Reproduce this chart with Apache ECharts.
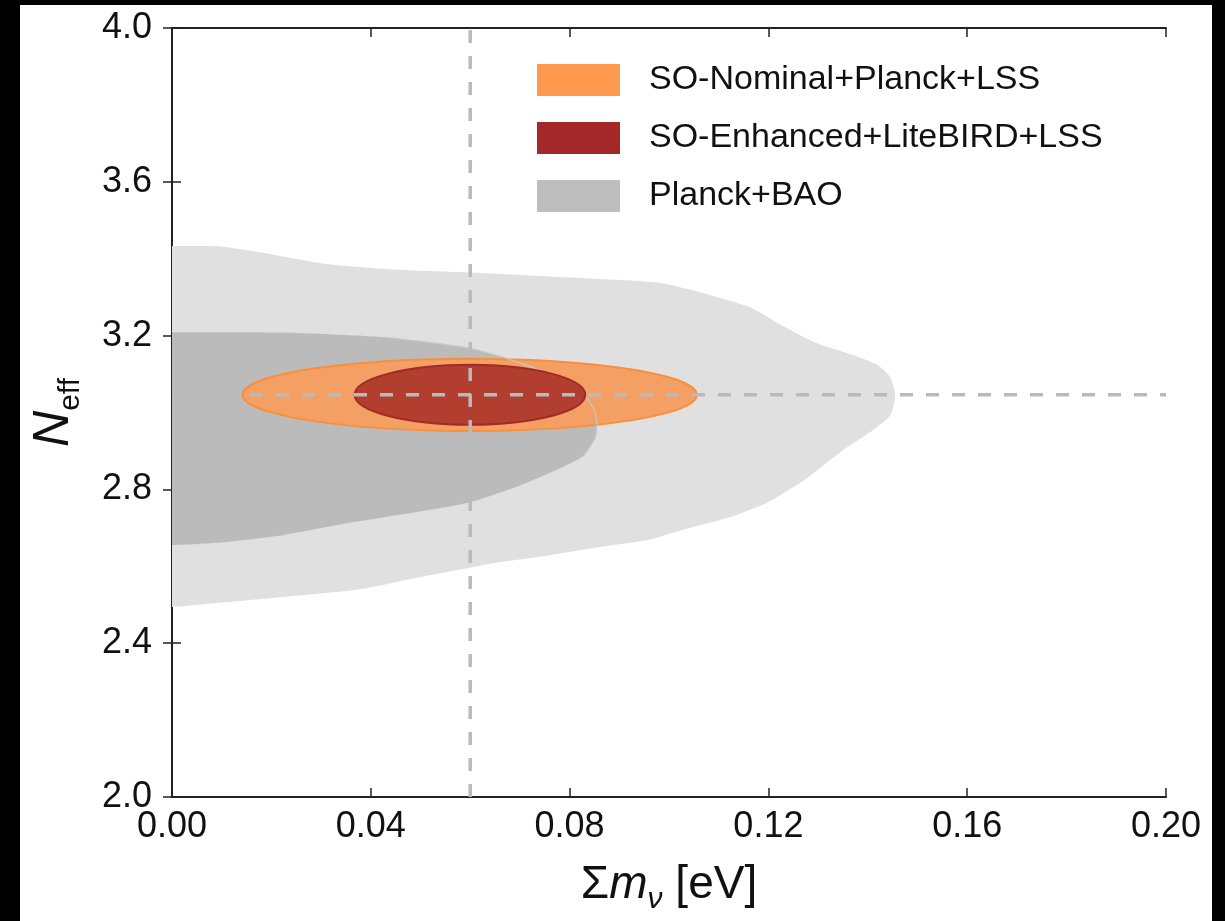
<!DOCTYPE html>
<html>
<head>
<meta charset="utf-8">
<script src="https://cdn.jsdelivr.net/npm/echarts@6/dist/echarts.min.js"></script>
<style>
html,body{margin:0;padding:0;background:#000;width:1225px;height:921px;overflow:hidden;}
#bg{position:absolute;left:20px;top:5px;width:1192px;height:916px;background:#fff;}
#main{position:absolute;left:0;top:0;width:1225px;height:921px;}
</style>
</head>
<body>
<div id="bg"></div>
<div id="main"></div>
<script>
// ---- data ----
var seriesNames = ['SO-Nominal+Planck+LSS', 'SO-Enhanced+LiteBIRD+LSS', 'Planck+BAO'];
var xTicks = [0.00, 0.04, 0.08, 0.12, 0.16, 0.20];
var yTicks = [2.0, 2.4, 2.8, 3.2, 3.6, 4.0];
var fiducialMnu = 0.06;
var fiducialNeff = 3.046;

// Planck+BAO 95% contour [sum m_nu, N_eff] (continues past the left axis, clipped there)
var planckOuter = [
  [-0.012, 3.433], [0.000, 3.433], [0.0097, 3.432], [0.0177, 3.417], [0.0312, 3.386], [0.0445, 3.372],
  [0.060, 3.364], [0.0861, 3.347], [0.0982, 3.337], [0.1062, 3.313], [0.1163, 3.274],
  [0.1229, 3.225], [0.1298, 3.180], [0.1364, 3.152], [0.1419, 3.124], [0.1445, 3.092],
  [0.1455, 3.046], [0.1445, 2.992], [0.1410, 2.954], [0.1350, 2.902], [0.1298, 2.850],
  [0.1264, 2.817], [0.1197, 2.765], [0.1129, 2.730], [0.1028, 2.695], [0.0962, 2.670],
  [0.0861, 2.650], [0.0761, 2.629], [0.0660, 2.611], [0.0598, 2.596], [0.0493, 2.570],
  [0.0378, 2.540], [0.0223, 2.520], [0.0080, 2.503], [0.000, 2.494], [-0.012, 2.494]
];
// Planck+BAO 68% contour
var planckInner = [
  [-0.012, 3.209], [0.000, 3.209], [0.0223, 3.208], [0.0425, 3.196], [0.0525, 3.181], [0.0598, 3.167],
  [0.0660, 3.146], [0.0740, 3.110], [0.0800, 3.074], [0.0831, 3.045], [0.0849, 3.007],
  [0.0855, 2.973], [0.0851, 2.934], [0.0827, 2.886], [0.0761, 2.843], [0.0694, 2.807],
  [0.0598, 2.766], [0.0493, 2.741], [0.0358, 2.713], [0.0223, 2.681], [0.0091, 2.661],
  [0.000, 2.655], [-0.012, 2.655]
];
// ellipses: [centre m_nu, centre N_eff, half-width m_nu, half-height N_eff]
var soNominal = [0.0599, 3.046, 0.0457, 0.094];
var soEnhanced = [0.05995, 3.046, 0.0232, 0.078];

// fiducial guide lines
var vLine = [[fiducialMnu, 2.0], [fiducialMnu, 4.0]];
var hLine = [[0.0, fiducialNeff], [0.2, fiducialNeff]];

// ---- chart ----
var FONT = 'Liberation Sans';
var chart = echarts.init(document.getElementById('main'), null, {renderer: 'canvas'});

function polygonSeries(name, pts, fill, z) {
  return {
    type: 'custom', name: name, coordinateSystem: 'cartesian2d',
    xAxisIndex: 0, yAxisIndex: 0, clip: true, silent: true, z: z,
    itemStyle: {color: fill},
    data: [pts[1]],
    renderItem: function (params, api) {
      return {
        type: 'polygon',
        shape: {points: pts.map(function (p) { return api.coord(p); }), smooth: 0.2},
        style: {fill: fill, stroke: null}
      };
    }
  };
}
function outlineSeries(name, pts, color, z) {
  return {
    type: 'custom', name: name, coordinateSystem: 'cartesian2d',
    xAxisIndex: 0, yAxisIndex: 0, clip: true, silent: true, z: z,
    data: [pts[1]],
    renderItem: function (params, api) {
      var p = pts.slice(3, pts.length - 9).map(function (q) { return api.coord(q); });
      return {
        type: 'polyline',
        shape: {points: p, smooth: 0.2},
        style: {fill: null, stroke: color, lineWidth: 1.3}
      };
    }
  };
}
function ellipseSeries(name, e, fill, stroke, z) {
  return {
    type: 'custom', name: name, coordinateSystem: 'cartesian2d',
    xAxisIndex: 0, yAxisIndex: 0, clip: true, silent: true, z: z,
    itemStyle: {color: fill},
    data: [[e[0], e[1]]],
    renderItem: function (params, api) {
      var c = api.coord([e[0], e[1]]);
      var s = api.size([e[2], e[3]]);
      return {
        type: 'ellipse',
        shape: {cx: c[0], cy: c[1], rx: s[0], ry: s[1]},
        style: {fill: fill, stroke: stroke, lineWidth: 2}
      };
    }
  };
}
function dashSeries(name, pts) {
  return {
    type: 'line', name: name, data: pts, symbol: 'none', silent: true, z: 20,
    xAxisIndex: 0, yAxisIndex: 0,
    lineStyle: {color: '#bababa', width: 3.5, type: [13, 13]}
  };
}

var axisLineStyle = {color: '#222', width: 2};
var tickStyle = {inside: true, length: 9, lineStyle: {color: '#222', width: 1.5}};

var option = {
  backgroundColor: 'transparent',
  animation: false,
  grid: {left: 172, top: 28, right: 59, bottom: 124},
  legend: {
    orient: 'vertical', left: 537, top: 63, padding: 0,
    itemWidth: 83, itemHeight: 32, itemGap: 24,
    selectedMode: false,
    textStyle: {fontFamily: FONT, fontSize: 34, color: '#111', padding: [0, 0, 0, 24]},
    data: [
      {name: seriesNames[0], icon: 'rect', itemStyle: {color: '#fd9a4e'}},
      {name: seriesNames[1], icon: 'rect', itemStyle: {color: '#a52828'}},
      {name: seriesNames[2], icon: 'rect', itemStyle: {color: '#bebebe'}}
    ]
  },
  xAxis: [{
    type: 'value', min: xTicks[0], max: xTicks[xTicks.length - 1], interval: 0.04,
    position: 'bottom',
    axisLine: {show: true, lineStyle: axisLineStyle},
    axisTick: tickStyle,
    splitLine: {show: false},
    axisLabel: {fontFamily: FONT, fontSize: 36, color: '#111', margin: 12,
      formatter: function (v) { return v.toFixed(2); }},
    name: '{a|Σ}{i|m}{s|ν}{a| [eV]}',
    nameLocation: 'middle', nameGap: 58,
    nameTextStyle: {
      rich: {
        a: {fontFamily: FONT, fontSize: 46, color: '#111', lineHeight: 60, verticalAlign: 'middle'},
        i: {fontFamily: FONT, fontSize: 46, fontStyle: 'italic', color: '#111', lineHeight: 60, verticalAlign: 'middle'},
        s: {fontFamily: FONT, fontSize: 30, fontStyle: 'italic', color: '#111', lineHeight: 60, verticalAlign: 'bottom'}
      }
    }
  }, {
    type: 'value', min: xTicks[0], max: xTicks[xTicks.length - 1], interval: 0.04,
    position: 'top',
    axisLine: {show: true, lineStyle: axisLineStyle},
    axisTick: tickStyle, axisLabel: {show: false}, splitLine: {show: false}
  }],
  yAxis: [{
    type: 'value', min: yTicks[0], max: yTicks[yTicks.length - 1], interval: 0.4,
    position: 'left',
    axisLine: {show: true, lineStyle: axisLineStyle},
    axisTick: tickStyle,
    splitLine: {show: false},
    axisLabel: {fontFamily: FONT, fontSize: 36, color: '#111', margin: 20,
      formatter: function (v) { return v.toFixed(1); }},
    name: '{n|N}{s|eff}',
    nameLocation: 'middle', nameGap: 86, nameRotate: 90,
    nameTextStyle: {
      rich: {
        n: {fontFamily: FONT, fontSize: 50, fontStyle: 'italic', color: '#111', lineHeight: 64, verticalAlign: 'middle'},
        s: {fontFamily: FONT, fontSize: 30, color: '#111', lineHeight: 64, verticalAlign: 'bottom'}
      }
    }
  }, {
    type: 'value', min: yTicks[0], max: yTicks[yTicks.length - 1], interval: 0.4,
    position: 'right',
    axisLine: {show: true, lineStyle: axisLineStyle},
    axisTick: tickStyle, axisLabel: {show: false}, splitLine: {show: false}
  }],
  series: [
    polygonSeries(seriesNames[2], planckOuter, '#e0e0e0', 1),
    polygonSeries('Planck+BAO 68%', planckInner, '#bbbbbb', 2),
    ellipseSeries(seriesNames[0], soNominal, '#f4a064', '#f98f3c', 3),
    outlineSeries('Planck+BAO 68% edge', planckInner, '#c6c6c6', 4),
    ellipseSeries(seriesNames[1], soEnhanced, '#b13e2f', '#a32a27', 5),
    dashSeries('fiducial m_nu', vLine),
    dashSeries('fiducial N_eff', hLine)
  ]
};
chart.setOption(option);
</script>
</body>
</html>
